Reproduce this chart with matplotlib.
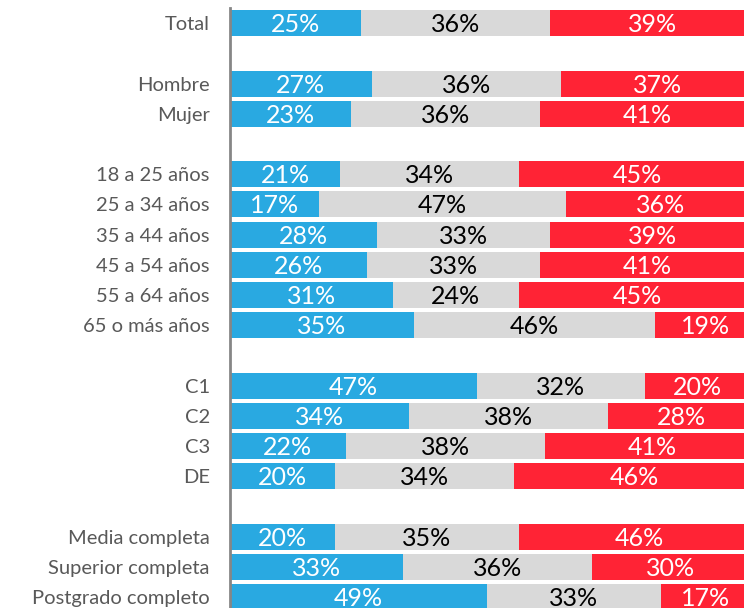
import matplotlib
matplotlib.use("Agg")
import matplotlib.pyplot as plt

# Stacked 100% bars by segment (blue / gray / red shares)
categories = ["Total", "Hombre", "Mujer",
              "18 a 25 años", "25 a 34 años", "35 a 44 años", "45 a 54 años",
              "55 a 64 años", "65 o más años",
              "C1", "C2", "C3", "DE",
              "Media completa", "Superior completa", "Postgrado completo"]
rows = [0, 2, 3, 5, 6, 7, 8, 9, 10, 12, 13, 14, 15, 17, 18, 19]

blue_vals = [25, 27, 23, 21, 17, 28, 26, 31, 35, 47, 34, 22, 20, 20, 33, 49]
gray_vals = [36, 36, 36, 34, 47, 33, 33, 24, 46, 32, 38, 38, 34, 35, 36, 33]
red_vals = [39, 37, 41, 45, 36, 39, 41, 45, 19, 20, 28, 41, 46, 46, 30, 17]

colors = ["#29A9E1", "#D9D9D9", "#FF2335"]
text_colors = ["white", "black", "white"]

plt.rcParams['font.family'] = ['Lato', 'DejaVu Sans']

fig = plt.figure(figsize=(7.44, 6.08), dpi=100)
ax = fig.add_axes([230 / 744, 0, 525 / 744, 600 / 608])

lefts = [0] * len(rows)
for vals, col, tcol in zip([blue_vals, gray_vals, red_vals], colors, text_colors):
    ax.barh(rows, vals, left=lefts, height=0.86, color=col, edgecolor="none")
    for r, l, v in zip(rows, lefts, vals):
        ax.text(l + v / 2, r + 0.05, f"{v}%", ha="center", va="center",
                color=tcol, fontsize=18)
    lefts = [l + v for l, v in zip(lefts, vals)]

ax.set_xlim(0, 100)
ax.set_ylim(19.36, -0.5)
ax.set_yticks(rows)
ax.set_yticklabels(categories, fontsize=14.5, color="#595959")
ax.tick_params(axis="y", length=0, pad=14.5)
ax.set_xticks([])

for side in ["top", "right", "bottom"]:
    ax.spines[side].set_visible(False)
ax.spines["left"].set_color("#868686")
ax.spines["left"].set_linewidth(2)

fig.savefig("out.png", dpi=100)
